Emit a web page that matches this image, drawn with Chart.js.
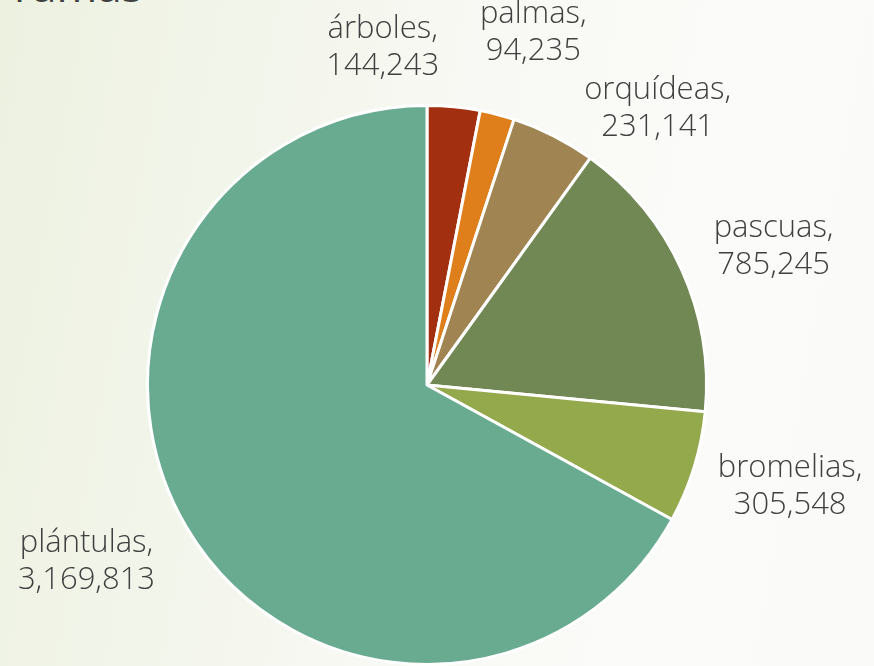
<!DOCTYPE html>
<html>
<head>
<meta charset="utf-8">
<script src="https://cdn.jsdelivr.net/npm/chart.js@4/dist/chart.umd.min.js"></script>
<style>
  html, body { margin: 0; padding: 0; }
  body {
    width: 874px; height: 666px; overflow: hidden; position: relative;
    background: linear-gradient(100deg, #edf1e0 0%, #f2f5ea 25%, #f8f9f4 50%, #fbfbf9 75%, #fafaf8 100%);
  }
  #title {
    position: absolute; left: 14px; top: -37px; margin: 0;
    font-family: "Open Sans", sans-serif; font-size: 44px; line-height: 44px;
    color: #404040; font-weight: 400; white-space: nowrap;
  }
  #wrap { position: absolute; left: 0; top: 0; width: 874px; height: 666px; }
</style>
</head>
<body>
<div id="title">ramas</div>
<div id="wrap"><canvas id="c" width="874" height="666"></canvas></div>
<script>
const categories = ["árboles", "palmas", "orquídeas", "pascuas", "bromelias", "plántulas"];
const values = [144243, 94235, 231141, 785245, 305548, 3169813];
const valueLabels = ["144,243", "94,235", "231,141", "785,245", "305,548", "3,169,813"];
const sliceColors = ["#a12f10", "#df7f1b", "#a08452", "#718754", "#93a94c", "#68ab91"];
// label offset (px) from outer edge point at slice mid-angle
const labelOffsets = [[-71, -59], [36, -81], [104, -27], [92, -22], [96, 20], [-100, 35]];

const labelPlugin = {
  id: 'outerLabels',
  afterDatasetsDraw(chart) {
    const ctx = chart.ctx;
    const meta = chart.getDatasetMeta(0);
    ctx.save();
    ctx.font = '300 31px "Open Sans", sans-serif';
    ctx.fillStyle = '#404040';
    ctx.textAlign = 'center';
    ctx.textBaseline = 'middle';
    meta.data.forEach((arc, i) => {
      const p = arc.getProps(['x', 'y', 'startAngle', 'endAngle', 'outerRadius'], true);
      const mid = (p.startAngle + p.endAngle) / 2;
      const ex = p.x + Math.cos(mid) * p.outerRadius;
      const ey = p.y + Math.sin(mid) * p.outerRadius;
      const cx = ex + labelOffsets[i][0];
      const cy = ey + labelOffsets[i][1];
      ctx.fillText(categories[i] + ',', cx, cy - 19);
      ctx.fillText(valueLabels[i], cx, cy + 18);
    });
    ctx.restore();
  }
};

new Chart(document.getElementById('c'), {
  type: 'pie',
  data: {
    labels: categories,
    datasets: [{
      data: values,
      backgroundColor: sliceColors,
      borderColor: '#ffffff',
      borderWidth: 3
    }]
  },
  options: {
    responsive: false,
    animation: false,
    layout: { padding: { left: 0, right: 20, top: 104, bottom: 0 } },
    plugins: {
      legend: { display: false },
      tooltip: { enabled: false },
      title: { display: false }
    }
  },
  plugins: [labelPlugin]
});
</script>
</body>
</html>
